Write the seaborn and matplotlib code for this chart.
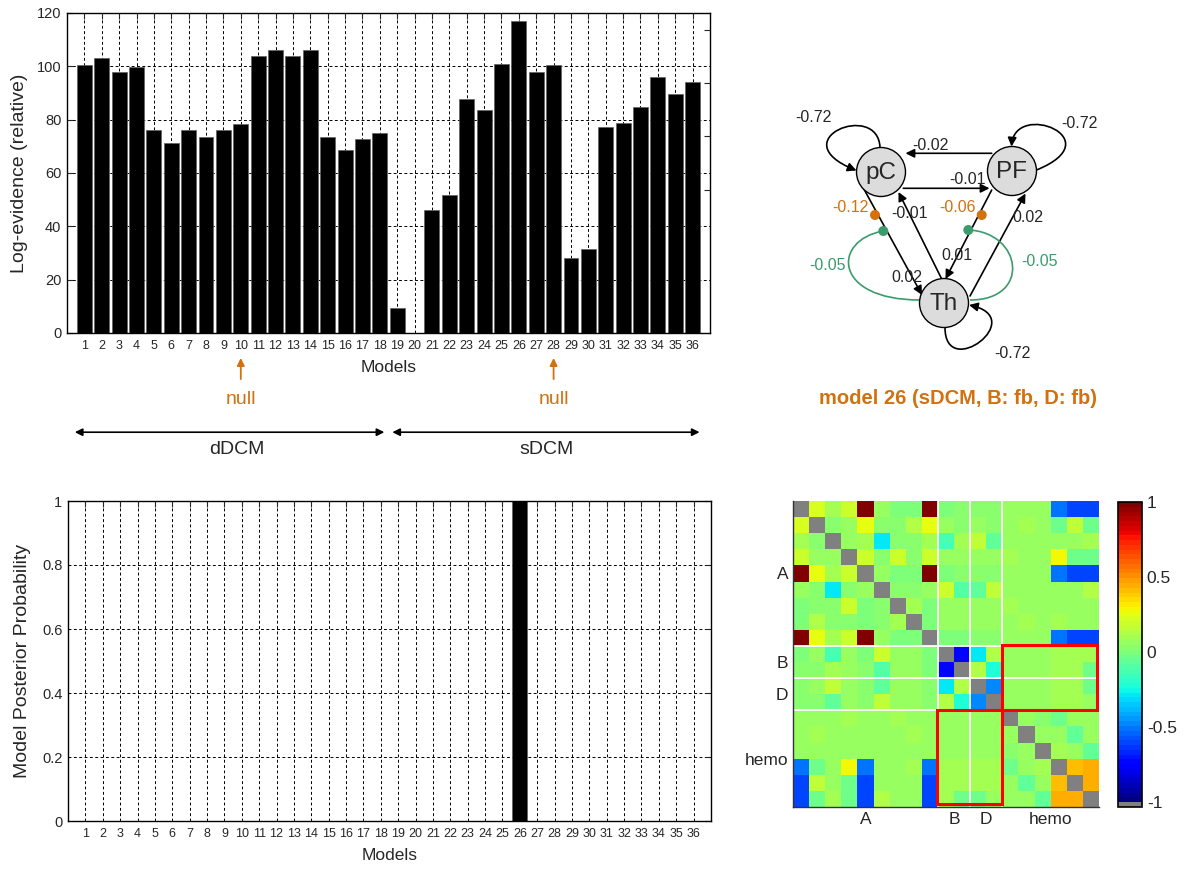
import matplotlib
matplotlib.use("Agg")
import matplotlib.pyplot as plt
import numpy as np
import pandas as pd
import seaborn as sns
from matplotlib.colors import ListedColormap
from matplotlib.patches import Circle, Rectangle, FancyArrowPatch, PathPatch
from matplotlib.path import Path

sns.set_style("white")
plt.rcParams["font.family"] = ["Liberation Sans", "DejaVu Sans"]

W, H = 1184, 871
ORANGE = "#d2710f"
GREEN = "#3b9b6c"

# ---- data -------------------------------------------------------------
models = list(range(1, 37))
log_evidence = [100.5, 103, 97.8, 99.7, 76, 71.2, 76, 73.6, 76, 78.3,
                104, 106.2, 104, 106.2, 73.6, 68.7, 72.6, 75,
                9.3, 0, 46.2, 51.9, 87.8, 83.5, 101, 117, 97.8, 100.5,
                28.2, 31.5, 77.4, 78.8, 84.9, 95.9, 89.6, 94]
posterior = [0, 0, 0, 0, 0, 0, 0, 0, 0, 0, 0, 0, 0, 0, 0, 0, 0, 0,
             0, 0, 0, 0, 0, 0, 0, 1, 0, 0, 0, 0, 0, 0, 0, 0, 0, 0]
null_models = [10, 28]

# upper triangle of the parameter correlation matrix (row i, cols i+1..18)
corr_upper = [
    [0.22, 0.08, 0.18, 0.98, 0.05, 0.0, 0.0, 0.98, 0.0, 0.02, 0.02, 0.02, 0.05, 0.05, 0.05, -0.52, -0.6, -0.6],
    [0.03, 0.05, 0.25, 0.03, 0.02, 0.13, 0.25, 0.06, 0.04, 0.07, 0.04, 0.05, 0.1, 0.05, -0.03, 0.17, -0.02],
    [0.06, 0.1, -0.3, 0.03, 0.03, 0.09, -0.14, 0.11, 0.16, -0.07, 0.05, 0.05, 0.05, 0.05, 0.05, 0.1],
    [0.18, 0.03, 0.19, 0.03, 0.18, 0.05, 0.07, 0.05, 0.05, 0.09, 0.05, 0.05, 0.3, -0.02, -0.02],
    [0.06, 0.0, 0.01, 0.98, 0.01, 0.02, 0.04, 0.04, 0.05, 0.05, 0.05, -0.52, -0.6, -0.6],
    [0.03, 0.03, 0.06, 0.18, -0.1, -0.06, 0.17, 0.05, 0.05, 0.05, 0.05, 0.05, 0.12],
    [0.1, 0.01, 0.06, 0.05, 0.07, 0.05, 0.08, 0.05, 0.05, 0.05, 0.06, 0.07],
    [0.01, 0.05, 0.05, 0.05, 0.05, 0.05, 0.09, 0.05, 0.09, 0.07, 0.07],
    [0.0, 0.01, 0.03, 0.03, 0.05, 0.05, 0.05, -0.52, -0.6, -0.6],
    [-0.72, -0.28, 0.12, 0.05, 0.05, 0.07, 0.08, 0.1, 0.1],
    [0.12, -0.22, 0.05, 0.05, 0.05, 0.08, 0.08, -0.03],
    [-0.48, 0.05, 0.05, 0.05, 0.08, 0.08, -0.02],
    [0.05, 0.05, 0.07, 0.08, 0.08, 0.06],
    [0.05, 0.04, -0.03, 0.06, 0.05],
    [0.05, 0.07, -0.07, 0.06],
    [0.1, 0.06, -0.05],
    [0.42, 0.45],
    [0.45],
]
group_ticks = [4.5, 10, 12, 16]
group_labels = ["A", "B", "D", "hemo"]
group_edges = [9, 11, 13]

# network of model 26: node layout (pixels) and edges
nodes = {"pC": (881, 172), "PF": (1012, 171), "Th": (944, 303)}
node_r = 24.5
edges = [  # start, end, label, label position
    ((991.7, 153.3), (905.5, 153.3), "-0.02", (930, 146)),
    ((903.3, 188.3), (989.5, 188.3), "-0.01", (967, 180)),
    ((861.7, 185.0), (922.0, 295.0), "0.02", (907, 277)),
    ((941.7, 279.0), (898.5, 192.0), "-0.01", (909, 213)),
    ((991.7, 190.0), (945.5, 279.0), "0.01", (957, 255)),
    ((970.0, 296.0), (1025.5, 193.5), "0.02", (1028, 218)),
]
self_loops = [  # bezier control points, label, label position
    ([(880, 147.5), (878, 100), (780, 140), (856.5, 170.5)], "-0.72", (813, 117)),
    ([(1036.5, 170), (1113, 139), (1015, 100), (1011.5, 146.5)], "-0.72", (1079, 123)),
    ([(945, 327.5), (945, 382), (1030, 318), (969, 305)], "-0.72", (1012, 353)),
]
mod_b = [((875, 215), "-0.12", (850, 208)), ((981.7, 215), "-0.06", (958, 207))]
mod_d = [
    ([(920, 300), (832, 300), (832, 240), (883.3, 231)], "-0.05", (828, 266)),
    ([(970, 300), (1032, 300), (1022, 232), (968.3, 230)], "-0.05", (1039, 262)),
]


def box(x0, y0, x1, y1):
    return [x0 / W, 1 - y1 / H, (x1 - x0) / W, (y1 - y0) / H]


def bar_panel(ax, values, ylim, yticks, ylabel, extra_right=None):
    df = pd.DataFrame({"model": models, "value": values})
    sns.barplot(data=df, x="model", y="value", color="black", saturation=1,
                width=0.86, edgecolor="#606060", linewidth=0.5, ax=ax)
    ax.set_xlim(-1, 36)
    ax.set_ylim(*ylim)
    ax.set_yticks(yticks)
    ax.grid(True, color="black", linestyle=(0, (3, 2.5)), linewidth=0.7)
    ax.set_axisbelow(True)
    ax.tick_params(direction="in", length=4, top=True, right=True, width=0.8)
    ax.tick_params(axis="x", labelsize=9, pad=5)
    ax.tick_params(axis="y", labelsize=10.5, pad=4)
    for s in ax.spines.values():
        s.set_visible(True)
        s.set_color("black")
        s.set_linewidth(1.0)
    ax.set_ylabel(ylabel, fontsize=14)
    ax.set_xlabel("Models", fontsize=12.5, labelpad=6)
    if extra_right is not None:
        ax2 = ax.twinx()
        ax2.set_ylim(*ylim)
        ax2.set_yticks(extra_right)
        ax2.tick_params(direction="in", length=4, labelright=False, width=0.8)
        for s in ax2.spines.values():
            s.set_visible(False)


fig = plt.figure(figsize=(W / 100, H / 100), dpi=100)

# ---- top left: log-evidence --------------------------------------------
ax_top = fig.add_axes(box(67, 13, 710, 333))
bar_panel(ax_top, log_evidence, (0, 120), range(0, 121, 20),
          "Log-evidence (relative)", extra_right=[53.75, 73.75, 93.75, 113.75])
ax_top.yaxis.labelpad = 6
trans = ax_top.get_xaxis_transform()
for m in null_models:
    idx = models.index(m)
    ax_top.annotate("", xy=(idx, -0.078), xytext=(idx, -0.144), xycoords=trans,
                    textcoords=trans, annotation_clip=False,
                    arrowprops=dict(arrowstyle="-|>", color=ORANGE, lw=1.3,
                                    mutation_scale=11, shrinkA=0, shrinkB=0))
    ax_top.text(idx, -0.209, "null", transform=trans, color=ORANGE,
                fontsize=14, ha="center", va="center")
for (a, b), name, xc in [((-0.55, 17.26), "dDCM", 8.8), ((17.72, 35.4), "sDCM", 26.6)]:
    ax_top.annotate("", xy=(b, -0.31), xytext=(a, -0.31), xycoords=trans,
                    textcoords=trans, annotation_clip=False,
                    arrowprops=dict(arrowstyle="<|-|>", color="black", lw=1.2,
                                    mutation_scale=11, shrinkA=0, shrinkB=0))
    ax_top.text(xc, -0.365, name, transform=trans, fontsize=14,
                ha="center", va="center")

# ---- bottom left: posterior probability --------------------------------
ax_bot = fig.add_axes(box(68, 501, 711, 821))
bar_panel(ax_bot, posterior, (0, 1), np.round(np.arange(0, 1.01, 0.2), 1),
          "Model Posterior Probability")
ax_bot.set_yticklabels(["0", "0.2", "0.4", "0.6", "0.8", "1"])
ax_bot.yaxis.labelpad = 8

# ---- top right: network diagram ----------------------------------------
ax_net = fig.add_axes(box(760, 90, 1120, 380))
ax_net.set_xlim(760, 1120)
ax_net.set_ylim(380, 90)
ax_net.axis("off")
curve = [Path.MOVETO, Path.CURVE4, Path.CURVE4, Path.CURVE4]
arrow_kw = dict(arrowstyle="-|>", mutation_scale=13, lw=1.2, color="black",
                shrinkA=0, shrinkB=0)
lab_fs = 11.5
for start, end, lab, (lx, ly) in edges:
    ax_net.add_patch(FancyArrowPatch(start, end, zorder=2, **arrow_kw))
    ax_net.text(lx, ly, lab, fontsize=lab_fs, ha="center", va="center", zorder=4)
for pts, lab, (lx, ly) in self_loops:
    ax_net.add_patch(FancyArrowPatch(path=Path(pts, curve), zorder=2, **arrow_kw))
    ax_net.text(lx, ly, lab, fontsize=lab_fs, ha="center", va="center")
for pts, lab, (lx, ly) in mod_d:
    ax_net.add_patch(PathPatch(Path(pts, curve), fill=False, edgecolor=GREEN,
                               lw=1.2, zorder=2))
    ax_net.add_patch(Circle(pts[-1], 4.3, color=GREEN, zorder=5))
    ax_net.text(lx, ly, lab, fontsize=lab_fs, color=GREEN, ha="center", va="center")
for (px, py), lab, (lx, ly) in mod_b:
    ax_net.add_patch(Circle((px, py), 4.3, color=ORANGE, zorder=5))
    ax_net.text(lx, ly, lab, fontsize=lab_fs, color=ORANGE, ha="center", va="center")
for name, (cx, cy) in nodes.items():
    ax_net.add_patch(Circle((cx, cy), node_r, facecolor="#dcdcdc",
                            edgecolor="black", lw=1.0, zorder=3))
    ax_net.text(cx, cy + 1, name, fontsize=17.5, ha="center", va="center", zorder=4)
fig.text(958 / W, 1 - 398 / H, "model 26 (sDCM, B: fb, D: fb)", color=ORANGE,
         fontsize=14.5, fontweight="bold", ha="center", va="center")

# ---- bottom right: parameter correlation matrix ------------------------
n = len(corr_upper) + 1
cmin = -1 - 2 / 63
corr = np.full((n, n), cmin)
for i, row in enumerate(corr_upper):
    for k, v in enumerate(row):
        corr[i, i + 1 + k] = v
        corr[i + 1 + k, i] = v

jet = plt.get_cmap("jet")
cmap = ListedColormap([(0.5, 0.5, 0.5, 1.0)] + [jet(t) for t in np.linspace(0, 1, 63)])

ax_m = fig.add_axes(box(793, 501, 1099, 807))
ax_cb = fig.add_axes(box(1118, 502, 1142, 807))
sns.heatmap(corr, ax=ax_m, cbar_ax=ax_cb, cmap=cmap, vmin=cmin, vmax=1,
            xticklabels=False, yticklabels=False,
            cbar_kws={"ticks": [-1, -0.5, 0, 0.5, 1]})
for e in group_edges:
    ax_m.axhline(e, color="white", lw=1.3)
    ax_m.axvline(e, color="white", lw=1.3)
ax_m.add_patch(Rectangle((13, 8.95), 5.85, 4.05, fill=False, edgecolor="red",
                         lw=2.2, zorder=5))
ax_m.add_patch(Rectangle((8.95, 12.95), 4.05, 5.85, fill=False, edgecolor="red",
                         lw=2.2, zorder=5))
ax_m.set_xticks(group_ticks)
ax_m.set_xticklabels(group_labels, rotation=0)
ax_m.set_yticks(group_ticks)
ax_m.set_yticklabels(group_labels, rotation=0)
ax_m.tick_params(direction="in", length=4, labelsize=12.5, color="black", width=0.8)
for side in ["left", "bottom"]:
    ax_m.spines[side].set_visible(True)
    ax_m.spines[side].set_color("#333333")
    ax_m.spines[side].set_linewidth(1.0)

cbar = ax_m.collections[0].colorbar
cbar.set_ticklabels(["-1", "-0.5", "0", "0.5", "1"])
cbar.ax.tick_params(labelsize=12.5, direction="in", length=4, left=True, width=0.8)
cbar.outline.set_edgecolor("black")
cbar.outline.set_linewidth(1.2)

fig.savefig("out.png", dpi=100)
